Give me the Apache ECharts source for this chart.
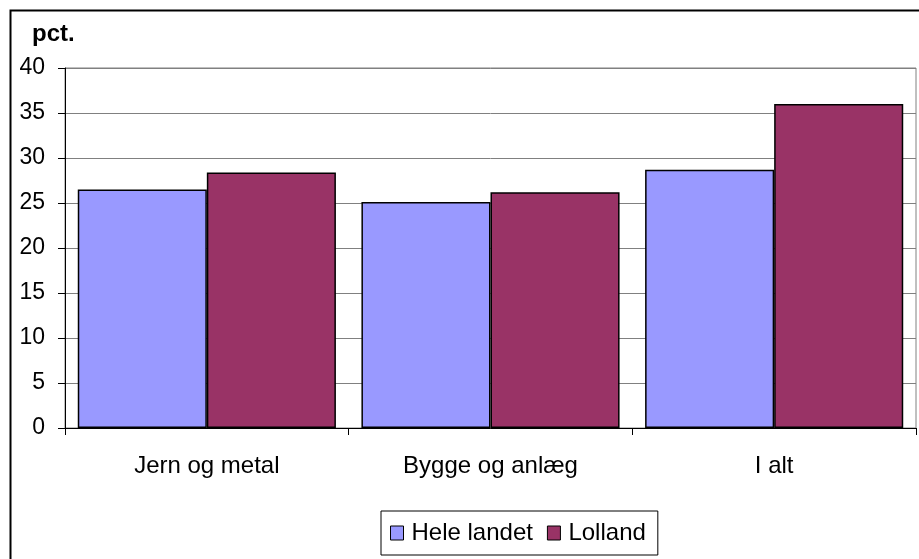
<!DOCTYPE html>
<html>
<head>
<meta charset="utf-8">
<script src="https://cdn.jsdelivr.net/npm/echarts@6/dist/echarts.min.js"></script>
<style>
html,body{margin:0;padding:0;background:#fff;}
#chart{width:919px;height:559px;}
</style>
</head>
<body>
<div id="chart"></div>
<script>
const categories = ['Jern og metal', 'Bygge og anlæg', 'I alt'];
const heleLandet = [26.5, 25.1, 28.7];
const lolland = [28.4, 26.2, 36.0];
const yTicks = [0, 5, 10, 15, 20, 25, 30, 35, 40];

const FONT = '"Liberation Sans", Arial, sans-serif';
const chart = echarts.init(document.getElementById('chart'), null, {renderer: 'canvas'});
chart.setOption({
  animation: false,
  backgroundColor: '#fff',
  textStyle: {fontFamily: FONT},
  title: {
    text: 'pct.',
    left: 27, top: 17,
    textStyle: {fontSize: 24, fontWeight: 'bold', color: '#000', fontFamily: FONT}
  },
  graphic: [{
    type: 'rect',
    shape: {x: 10.5, y: 10.5, width: 960, height: 600},
    style: {fill: null, stroke: '#000', lineWidth: 2},
    z: 100
  }],
  grid: {
    left: 65, top: 68, right: 3, bottom: 131,
    show: true, borderColor: '#808080', borderWidth: 1, containLabel: false
  },
  legend: {
    left: 381, top: 511,
    padding: [10, 12, 10, 9],
    borderColor: '#000', borderWidth: 1,
    itemWidth: 13, itemHeight: 14, itemGap: 14,
    icon: 'rect',
    itemStyle: {borderColor: '#000', borderWidth: 1},
    textStyle: {fontSize: 24, color: '#000', fontFamily: FONT, padding: [0, 0, 0, 3]},
    data: ['Hele landet', 'Lolland']
  },
  xAxis: {
    type: 'category',
    data: categories,
    axisLine: {show: true, lineStyle: {color: '#000', width: 1}},
    axisTick: {show: true, length: 7, lineStyle: {color: '#000'}},
    axisLabel: {fontSize: 24, color: '#000', margin: 26, fontFamily: FONT},
    splitLine: {show: false}
  },
  yAxis: {
    type: 'value',
    min: yTicks[0], max: yTicks[yTicks.length - 1], interval: 5,
    axisLine: {show: true, lineStyle: {color: '#000', width: 1}},
    axisTick: {show: true, length: 7, lineStyle: {color: '#000'}},
    axisLabel: {fontSize: 23, color: '#000', margin: 20, fontFamily: FONT},
    splitLine: {show: true, lineStyle: {color: '#808080', width: 1}}
  },
  series: [
    {
      name: 'Hele landet', type: 'bar', data: heleLandet,
      barGap: '0%', barCategoryGap: '9%',
      itemStyle: {color: '#9999FF', borderColor: '#000', borderWidth: 1.5}
    },
    {
      name: 'Lolland', type: 'bar', data: lolland,
      barGap: '0%', barCategoryGap: '9%',
      itemStyle: {color: '#993366', borderColor: '#000', borderWidth: 1.5}
    }
  ]
});
</script>
</body>
</html>
